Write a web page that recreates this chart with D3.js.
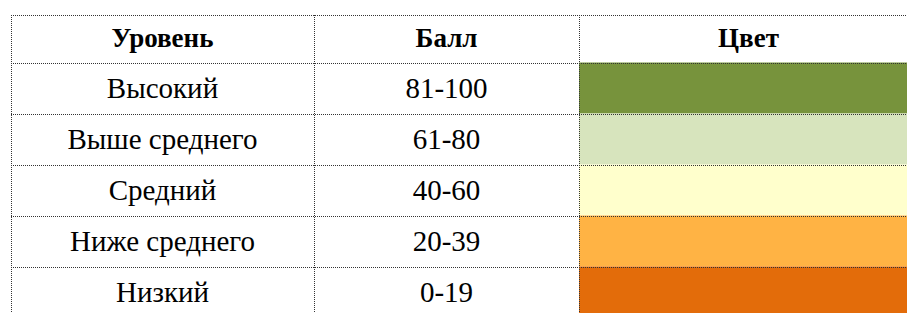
<!DOCTYPE html>
<html>
<head>
<meta charset="utf-8">
<script src="https://cdn.jsdelivr.net/npm/d3@7"></script>
<style>
  html, body { margin: 0; padding: 0; background: #fff; }
  svg { display: block; }
</style>
</head>
<body>
<svg id="chart" width="907" height="313"></svg>
<script>
const headers = ["Уровень", "Балл", "Цвет"];
const levels = ["Высокий", "Выше среднего", "Средний", "Ниже среднего", "Низкий"];
const scores = ["81-100", "61-80", "40-60", "20-39", "0-19"];
const colors = ["#77933C", "#D7E4BD", "#FFFFCC", "#FFB344", "#E36C0A"];

const svg = d3.select("#chart");

const colEdges = [11, 314, 579, 918];
const headerTop = 15, headerBottom = 62.5, rowH = 51;
const y = d3.scaleBand()
  .domain(d3.range(levels.length))
  .range([headerBottom, headerBottom + rowH * levels.length])
  .padding(0);

const font = "'Liberation Serif', 'Times New Roman', serif";

// color cells
svg.append("g").selectAll("rect")
  .data(colors)
  .join("rect")
  .attr("x", colEdges[2])
  .attr("y", (d, i) => y(i))
  .attr("width", colEdges[3] - colEdges[2])
  .attr("height", y.bandwidth())
  .attr("fill", d => d);

// header text
svg.append("g").selectAll("text")
  .data(headers)
  .join("text")
  .attr("x", (d, i) => (colEdges[i] + colEdges[i + 1]) / 2)
  .attr("y", (headerTop + headerBottom) / 2)
  .attr("dy", "0.3em")
  .attr("text-anchor", "middle")
  .attr("font-family", font)
  .attr("font-weight", "bold")
  .attr("font-size", 27)
  .attr("fill", "#000")
  .text(d => d);

// body text
const rows = levels.map((l, i) => [l, scores[i]]);
rows.forEach((r, i) => {
  svg.append("g").selectAll("text")
    .data(r)
    .join("text")
    .attr("x", (d, j) => (colEdges[j] + colEdges[j + 1]) / 2)
    .attr("y", y(i) + y.bandwidth() / 2)
    .attr("dy", "0.35em")
    .attr("text-anchor", "middle")
    .attr("font-family", font)
    .attr("font-size", 29)
    .attr("fill", "#000")
    .text(d => d);
});

// grid lines (dotted)
const lineG = svg.append("g")
  .attr("stroke", "#333")
  .attr("stroke-width", 1)
  .attr("stroke-dasharray", "1,1")
  .attr("shape-rendering", "crispEdges");

const hLines = [headerTop, headerBottom].concat(d3.range(1, levels.length + 1).map(i => headerBottom + rowH * i));
lineG.selectAll("line.h")
  .data(hLines)
  .join("line")
  .attr("class", "h")
  .attr("x1", colEdges[0])
  .attr("x2", colEdges[3])
  .attr("y1", d => Math.round(d) + 0.5)
  .attr("y2", d => Math.round(d) + 0.5);

lineG.selectAll("line.v")
  .data(colEdges.slice(0, 3))
  .join("line")
  .attr("class", "v")
  .attr("x1", d => d + 0.5)
  .attr("x2", d => d + 0.5)
  .attr("y1", headerTop)
  .attr("y2", 313);
</script>
</body>
</html>
